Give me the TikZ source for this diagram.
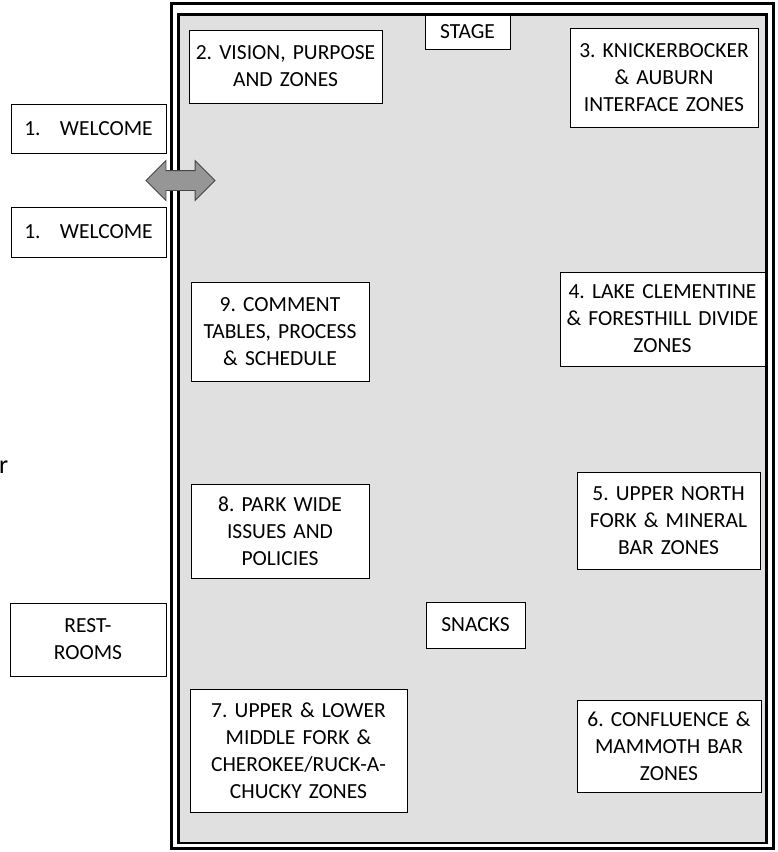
\documentclass[tikz,border=0pt]{standalone}
\usepackage{fontspec}
\setmainfont{Carlito}
\usetikzlibrary{positioning, shapes.arrows}
\definecolor{myroomgray}{RGB}{224, 224, 224}
\definecolor{myarrowgray}{RGB}{150, 150, 150}
\definecolor{mydarkgray}{RGB}{70, 70, 70}
\frenchspacing

\tikzset{
  zone/.style={draw=black, line width=0.9, fill=white, text=black, text centered, inner sep=0, outer sep=0, anchor=north west},
}

\begin{document}
\begin{tikzpicture}[x=1pt, y=-1pt, font=\fontsize{21.5}{27}\selectfont]
\useasboundingbox (0,0) rectangle (778,852);

% --- Room ---
\draw [line width=3, fill=white] (171.5,3) rectangle (773,848.5);
\draw [line width=2.5, fill=myroomgray] (178.5,14.5) rectangle (766.5,843);

% --- Outside the room ---
\node at (11,104) [zone, text width=155, minimum height=49] (welcomeA) {1.\hspace{0.9em}WELCOME};
\node at (11,207) [zone, text width=155, minimum height=50] (welcomeB) {1.\hspace{0.9em}WELCOME};
\node at (10,603) [zone, text width=156, minimum height=73] (restrooms) {REST-\\ROOMS};
\node at (-1,473) [anchor=base west, inner sep=0, font=\fontsize{26}{30}\selectfont] (cutoff) {r};

% --- Door ---
\node at (180.5,180.5) [double arrow, fill=myarrowgray, draw=mydarkgray, line width=0.8, minimum height=69, inner xsep=0, inner ysep=9.5, double arrow head extend=10] (door) {};

% --- Stations ---
\node at (425,15) [zone, text width=85, minimum height=34] (stage) {STAGE};
\node at (189,30) [zone, text width=193, minimum height=73] (vision) {2. VISION, PURPOSE\\AND ZONES};
\node at (570,28) [zone, text width=188, minimum height=99] (knickerbocker) {3. KNICKERBOCKER\\\& AUBURN\\INTERFACE ZONES};
\node at (191,282) [zone, text width=178, minimum height=99] (comment) {9. COMMENT\\TABLES, PROCESS\\\& SCHEDULE};
\node at (560,272) [zone, text width=205, minimum height=94] (clementine) {4. LAKE CLEMENTINE\\\& FORESTHILL DIVIDE\\ZONES};
\node at (191,484) [zone, text width=178, minimum height=94] (parkwide) {8. PARK WIDE\\ISSUES AND\\POLICIES};
\node at (577,472) [zone, text width=183, minimum height=97] (northfork) {5. UPPER NORTH\\FORK \& MINERAL\\BAR ZONES};
\node at (426,602) [zone, text width=99, minimum height=46] (snacks) {SNACKS};
\node at (190,689) [zone, text width=217, minimum height=123] (middlefork) {7. UPPER \& LOWER\\MIDDLE FORK \&\\CHEROKEE/RUCK-A-\\CHUCKY ZONES};
\node at (577,700) [zone, text width=184, minimum height=92] (confluence) {6. CONFLUENCE \&\\MAMMOTH BAR\\ZONES};
\end{tikzpicture}
\end{document}
